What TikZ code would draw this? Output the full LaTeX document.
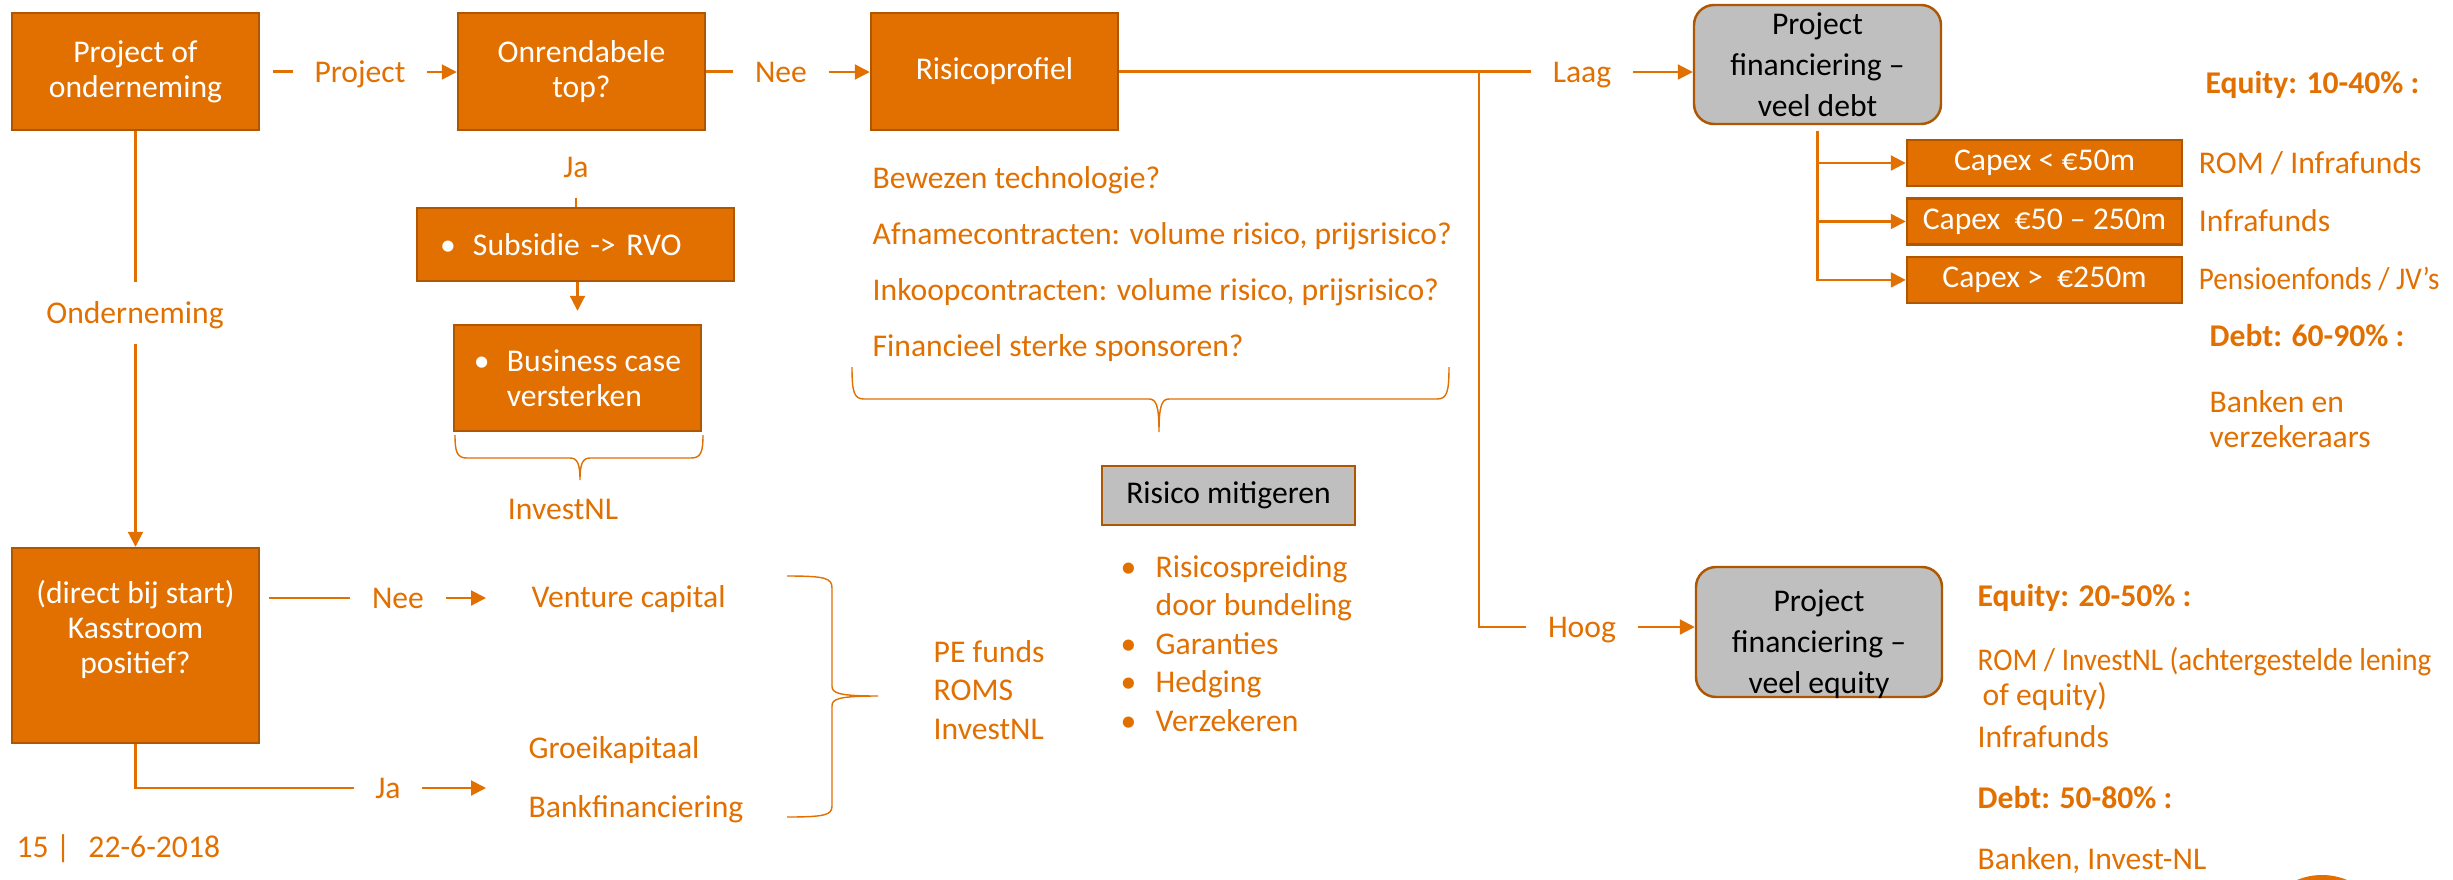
\documentclass[tikz,border=0pt]{standalone}
\usepackage{fontspec}
\usepackage{graphicx}
\setmainfont{Carlito}
\usetikzlibrary{arrows.meta, positioning}
\definecolor{orng}{HTML}{E17000}
\definecolor{orngdark}{HTML}{AE5700}
\definecolor{boxgrey}{HTML}{BFBFBF}

\tikzset{
	obox/.style={draw=orngdark, fill=orng, line width=0.7pt, text=white, inner sep=0pt, align=center},
	gbox/.style={draw=orngdark, fill=boxgrey, line width=0.7pt, text=black, inner sep=0pt, align=center},
	conn/.style={draw=orng, line width=0.6pt},
	arr/.style={conn, -{Triangle[length=1.5mm, width=1.5mm]}},
	lbl/.style={text=orng, inner xsep=2.1mm, inner ysep=0pt, text height=5.7pt, text depth=0pt},
	txt/.style={text=orng, inner sep=0pt, anchor=base west},
	brc/.style={draw=orng, line width=0.4pt}
}

\begin{document}
\begin{tikzpicture}[x=0.1mm, y=-0.1mm, font=\fontsize{9}{10}\selectfont]
			\useasboundingbox[fill=white] (0,0) rectangle (2453,879);
			\coordinate (split) at (1479,71.5);
			
			% bovenste rij
			\node[obox, minimum width=24.7mm, minimum height=11.7mm] (proj) at (135.5,71.5) {Project of\\onderneming};
			\node[obox, minimum width=24.7mm, minimum height=11.7mm] (onr) at (581.5,71.5) {Onrendabele\\top?};
			\node[obox, minimum width=24.7mm, minimum height=11.7mm] (risk) at (994.5,71.5) {Risicoprofiel};
			\node[gbox, rounded corners=2mm, minimum width=24.7mm, minimum height=11.9mm] (pfd) at (1817.5,64.5) {Project\\[1.7pt]financiering –\\[1.7pt]veel debt};
			
			\node[lbl] (lproj) at (360,72) {Project};
			\node[lbl] (lnee) at (781,72) {Nee};
			\node[lbl] (llaag) at (1582,72) {Laag};
			\node[lbl] (lhoog) at (1582,627) {Hoog};
			
			% onrendabele top
			\node[lbl, inner xsep=0pt, inner ysep=2mm] (lja) at (576,167) {Ja};
			\node[obox, minimum width=31.7mm, minimum height=7.3mm, text width=27.1mm, inner xsep=2.3mm, align=left] (subs) at (575.5,244.5) {\makebox[3.3mm][l]{\textbullet}Subsidie -> RVO};
			\node[obox, minimum width=24.7mm, minimum height=10.6mm, align=left] (busi) at (577.5,378) {\makebox[3.3mm][l]{\textbullet}Business case\\\hspace*{3.3mm}versterken};
			\node[txt, anchor=base] (invest) at (563,519) {InvestNL};
			
			% onderneming
			\node[lbl, inner xsep=0pt, inner ysep=2mm] (londer) at (135,313) {Onderneming};
			\node[obox, minimum width=24.7mm, minimum height=19.5mm, label={[text=white, align=center, yshift=1.6mm]center:{(direct bij start)\\Kasstroom\\positief?}}] (kas) at (135.5,645.5) {};
			\node[lbl] (lnee2) at (398,598) {Nee};
			\node[lbl] (lja2) at (388,788) {Ja};
			\node[txt] (venture) at (531,607) {Venture capital};
			\node[txt] (groei) at (528,758) {Groeikapitaal};
			\node[txt] (bank) at (528,817) {Bankfinanciering};
			\node[txt] (pe) at (933,662) {\begin{tabular}[t]{@{}l@{}}PE funds\\[1pt]ROMS\\[1pt]InvestNL\end{tabular}};
			\node[txt] (date) at (16,857) {15 |\hspace{1.8mm}22-6-2018};
			
			% risicoprofiel
			\node[txt] (checks) at (872,188) {\begin{tabular}[t]{@{}l@{}}Bewezen technologie?\\[6pt]Afnamecontracten: volume risico, prijsrisico?\\[6pt]Inkoopcontracten: volume risico, prijsrisico?\\[6pt]Financieel sterke sponsoren?\end{tabular}};
			\node[gbox, minimum width=25.3mm, minimum height=5.9mm] (mitig) at (1228.5,495.5) {Risico mitigeren};
			\node[txt] (mitlist) at (1120,577) {\begin{tabular}[t]{@{}p{3.5mm}@{}l@{}}\textbullet & Risicospreiding\\[1pt] & door bundeling\\[1pt]\textbullet & Garanties\\[1pt]\textbullet & Hedging\\[1pt]\textbullet & Verzekeren\end{tabular}};
			
			% project financiering
			\node[obox, minimum width=27.5mm, minimum height=4.6mm] (cap1) at (2044.5,163) {Capex < €50m};
			\node[obox, minimum width=27.5mm, minimum height=4.6mm, below=1mm of cap1] (cap2) {Capex~ €50 – 250m};
			\node[obox, minimum width=27.5mm, minimum height=4.6mm, below=1mm of cap2] (cap3) {Capex >~ €250m};
			\node[lbl, inner xsep=0pt, right=1.5mm of cap1] (rom1) {ROM / Infrafunds};
			\node[lbl, inner xsep=0pt, right=1.5mm of cap2] (infra1) {Infrafunds};
			\node[lbl, inner xsep=0pt, right=1.5mm of cap3] (pens) {\scalebox{0.92}[1]{Pensioenfonds / JV’s}};
			\node[txt] (eq1) at (2205,93) {\textbf{Equity: 10-40\% :}};
			\node[txt] (dt1) at (2209,346) {\textbf{Debt: 60-90\% :}};
			\node[txt] (dt1who) at (2209,412) {\begin{tabular}[t]{@{}l@{}}Banken en\\verzekeraars\end{tabular}};
			
			\node[gbox, rounded corners=2mm, minimum width=24.6mm, minimum height=13mm, label={[align=center, yshift=-1.25mm]center:{Project\\[1.7pt]financiering –\\[1.7pt]veel equity}}] (pfe) at (1819,632) {};
			\node[txt] (eq2) at (1977,606) {\textbf{Equity: 20-50\% :}};
			\node[txt] (eq2who) at (1977,670) {\begin{tabular}[t]{@{}l@{}}\scalebox{0.92}[1]{ROM / InvestNL (achtergestelde lening}\\\hspace*{0.5mm}of equity)\end{tabular}};
			\node[txt] (infra2) at (1977,747) {Infrafunds};
			\node[txt] (dt2) at (1977,808) {\textbf{Debt: 50-80\% :}};
			\node[txt] (dt2who) at (1977,869) {Banken, Invest-NL};
			
			% verbindingen
			\draw[conn, shorten <=1.3mm] (proj.east) -- (lproj.west |- proj.east);
			\draw[arr] (lproj.east) -- (lproj.east -| onr.west);
			\draw[conn] (onr.east) -- (lnee.west |- onr.east);
			\draw[arr] (lnee.east) -- (lnee.east -| risk.west);
			\draw[conn] (risk.east) -- (llaag.west |- risk.east);
			\draw[arr] (llaag.east) -- (llaag.east -| pfd.west);
			\draw[conn] (split) |- (lhoog.west);
			\draw[arr] (lhoog.east) -- (lhoog.east -| pfe.west);
			\draw[conn] (lja.south) -- (lja.south |- subs.north);
			\draw[arr, shorten >=1.3mm] (subs.south -| busi.north) -- (busi.north);
			\draw[conn] (proj.south) -- (proj.south |- londer.north);
			\draw[arr] (londer.south -| kas.north) -- (kas.north);
			\draw[conn, shorten <=0.9mm] (kas.east |- lnee2.west) -- (lnee2.west);
			\draw[arr, shorten >=4.5mm] (lnee2.east) -- (lnee2.east -| venture.west);
			\draw[conn] (kas.south) |- (lja2.west);
			\draw[arr, shorten >=4.2mm] (lja2.east) -- (lja2.east -| bank.west);
			\draw[arr, shorten <=0.6mm] (pfd.south) |- (cap1.west);
			\draw[arr, shorten <=0.6mm] (pfd.south) |- (cap2.west);
			\draw[arr, shorten <=0.6mm] (pfd.south) |- (cap3.west);
			
			% accolades
			\draw[brc] (455,435) .. controls (455,452) and (457,458) .. (467,458) -- (570,458) .. controls (577,458) and (580,463) .. (580,480) .. controls (580,463) and (583,458) .. (590,458) -- (691,458) .. controls (701,458) and (703,452) .. (703,435);
			\draw[brc] (852,367) .. controls (852,392) and (854,399) .. (864,399) -- (1149,399) .. controls (1156,399) and (1159,405) .. (1159,432) .. controls (1159,405) and (1162,399) .. (1169,399) -- (1437,399) .. controls (1447,399) and (1449,392) .. (1449,367);
			\draw[brc] (787,576) .. controls (825,576) and (832,578) .. (832,588) -- (832,686) .. controls (832,693) and (838,696) .. (878,696) .. controls (838,696) and (832,699) .. (832,706) -- (832,806) .. controls (832,815) and (825,817) .. (787,817);
			
			\begin{scope}
				\clip (0,0) rectangle (2453,879);
				\fill[orng] (2322,940) circle (6.5mm);
			\end{scope}
			\end{tikzpicture}
\end{document}
